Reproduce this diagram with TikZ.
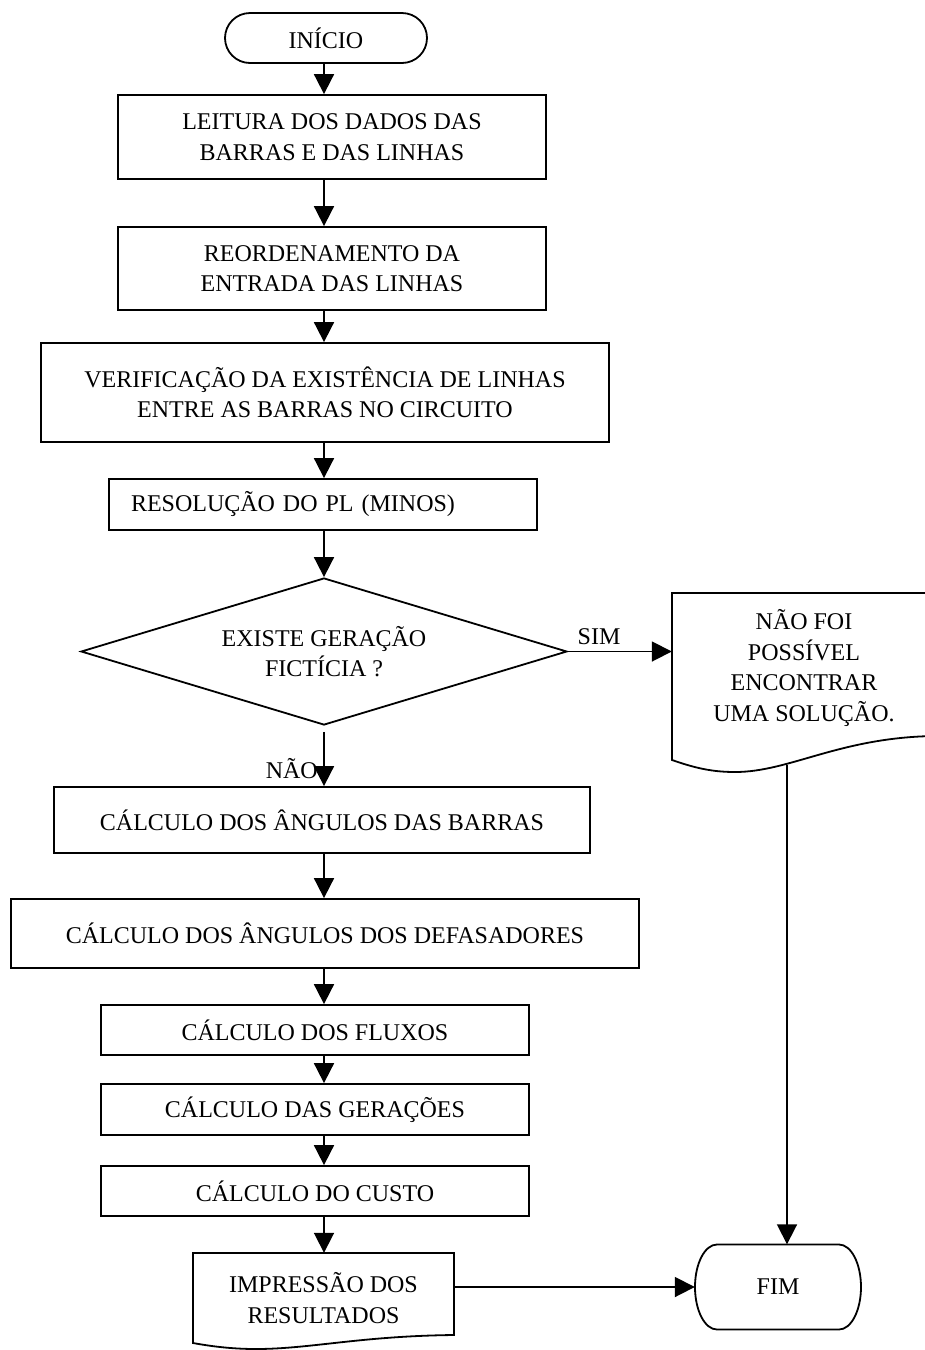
\documentclass[tikz,border=0pt]{standalone}
\usepackage{fontspec}
\setmainfont{Liberation Serif}
\usetikzlibrary{arrows.meta,shapes.geometric,shapes.misc}

\begin{document}
\begin{tikzpicture}[x=1pt,y=-1pt,
  every node/.style={font=\fontsize{24}{30.5}\selectfont, inner sep=0pt, align=center},
  procbox/.style={draw, rectangle, line width=1.8pt},
  termbox/.style={draw, rounded rectangle, line width=1.8pt},
  decbox/.style={draw, diamond, shape aspect=3.3, line width=1.8pt},
  docbox/.style={rectangle},
  outline/.style={line width=1.8pt, line join=miter},
  flow/.style={line width=1.8pt, -{Triangle[length=20pt,width=20pt]}}]

\useasboundingbox (0,0) rectangle (925,1350);

% vertical axis shared by the main column of arrows
\coordinate (axis) at (324,0);

% main column
\node[termbox, minimum width=202pt, minimum height=50pt] (start) at (326,38) {INÍCIO};
\node[procbox, minimum width=428pt, minimum height=84pt] (b1) at (332,137)
  {LEITURA DOS DADOS DAS\\BARRAS E DAS LINHAS};
\node[procbox, minimum width=428pt, minimum height=83pt] (b2) at (332,268.5)
  {REORDENAMENTO DA\\ENTRADA DAS LINHAS};
\node[procbox, minimum width=568pt, minimum height=99pt] (b3) at (325,392.5)
  {VERIFICAÇÃO DA EXISTÊNCIA DE LINHAS\\ENTRE AS BARRAS NO CIRCUITO};
\node[procbox, minimum width=428pt, minimum height=51pt, text width=384pt,
      inner xsep=22pt, align=left] (b4) at (323,504.5) {RESOLUÇÃO DO PL (MINOS)};
\node[decbox, minimum width=486pt, minimum height=147pt] (dec) at (324,651.5)
  {EXISTE GERAÇÃO\\FICTÍCIA ?};
\node[procbox, minimum width=536pt, minimum height=66pt] (b5) at (322,820)
  {CÁLCULO DOS ÂNGULOS DAS BARRAS};
\node[procbox, minimum width=628pt, minimum height=69pt] (b6) at (325,933.5)
  {CÁLCULO DOS ÂNGULOS DOS DEFASADORES};
\node[procbox, minimum width=428pt, minimum height=50pt] (b7) at (315,1030)
  {CÁLCULO DOS FLUXOS};
\node[procbox, minimum width=428pt, minimum height=51pt] (b8) at (315,1109.5)
  {CÁLCULO DAS GERAÇÕES};
\node[procbox, minimum width=428pt, minimum height=50pt] (b9) at (315,1191)
  {CÁLCULO DO CUSTO};

% document: printed results
\node[docbox, minimum width=261pt, minimum height=90pt] (dres) at (323.5,1298)
  {IMPRESSÃO DOS\\RESULTADOS};
\draw[outline] (193,1343) -- (193,1253) -- (454,1253) -- (454,1335)
  .. controls (360,1336) and (310,1349) .. (256,1349)
  .. controls (235,1349) and (215,1347) .. (193,1343) -- cycle;

% document: no solution found
\node[docbox, minimum width=264pt, minimum height=143pt] (nf) at (804,668)
  {NÃO FOI\\POSSÍVEL\\ENCONTRAR\\UMA SOLUÇÃO.};
\draw[outline] (672,760) -- (672,593) -- (936,593) -- (936,736)
  .. controls (840,737) and (790,772) .. (735,772)
  .. controls (712,772) and (695,768) .. (672,760) -- cycle;

% end terminal with elliptic ends
\node[docbox, minimum width=166pt, minimum height=85pt] (fim) at (778,1287) {FIM};
\draw[outline] (717,1244.5) -- (839,1244.5)
  arc[start angle=90, end angle=-90, x radius=22pt, y radius=42.5pt]
  -- (717,1329.5)
  arc[start angle=270, end angle=90, x radius=22pt, y radius=42.5pt] -- cycle;

% connectors
\draw[flow] (start.south -| axis) -- (b1.north -| axis);
\draw[flow] (b1.south -| axis) -- (b2.north -| axis);
\draw[flow] (b2.south -| axis) -- (b3.north -| axis);
\draw[flow] (b3.south -| axis) -- (b4.north -| axis);
\draw[flow] (b4.south -| axis) -- (dec.north);
\draw[flow] (dec.east) -- (dec.east -| nf.west);
\node (sim) at (599,637) {SIM};
\draw[flow, shorten <=6pt] (dec.south) -- (b5.north -| dec.south);
\node[anchor=east] (nao) at (318,769) {NÃO};
\draw[flow] (b5.south -| axis) -- (b6.north -| axis);
\draw[flow] (b6.south -| axis) -- (b7.north -| axis);
\draw[flow] (b7.south -| axis) -- (b8.north -| axis);
\draw[flow] (b8.south -| axis) -- (b9.north -| axis);
\draw[flow] (b9.south -| axis) -- (dres.north -| axis);
\draw[flow] (fim.west -| dres.east) -- (fim.west);
\coordinate (nfb) at (787,765);
\draw[flow] (nfb) -- (nfb |- fim.north);
\end{tikzpicture}
\end{document}
